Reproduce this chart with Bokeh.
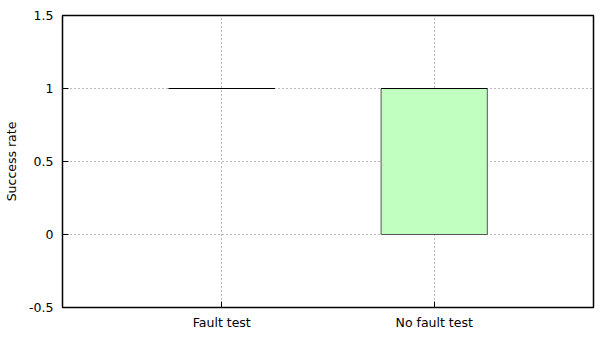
from bokeh.plotting import figure
from bokeh.models import FixedTicker, Range1d, ColumnDataSource
from bokeh.embed import file_html
from bokeh.resources import INLINE

categories = ["Fault test", "No fault test"]
lower = [1.0, 0.0]
q1 = [1.0, 0.0]
median = [1.0, 1.0]
q3 = [1.0, 1.0]
upper = [1.0, 1.0]
y_ticks = [-0.5, 0, 0.5, 1, 1.5]
y_tick_labels = ["-0.5", "0", "0.5", "1", "1.5"]

xs = [i + 1 for i in range(len(categories))]
half = 0.25
src = ColumnDataSource(dict(
    x=xs, left=[x - half for x in xs], right=[x + half for x in xs],
    q1=q1, q3=q3, med=median, lo=lower, hi=upper,
))

p = figure(width=600, height=341, output_backend="svg", toolbar_location=None,
           x_range=Range1d(0.25, 2.75), y_range=Range1d(-0.5, 1.5),
           min_border_left=62, min_border_right=7, min_border_top=15, min_border_bottom=34)
p.background_fill_color = "white"
p.border_fill_color = "white"
p.outline_line_color = "black"
p.outline_line_width = 1.5

for ax_grid in (p.xgrid, p.ygrid):
    ax_grid.grid_line_color = "#777777"
    ax_grid.grid_line_dash = "1 3"
    ax_grid.grid_line_width = 1
p.xgrid.ticker = FixedTicker(ticks=xs)
p.ygrid.ticker = FixedTicker(ticks=y_ticks)

p.xaxis.ticker = FixedTicker(ticks=xs)
p.xaxis.major_label_overrides = {x: c for x, c in zip(xs, categories)}
p.yaxis.ticker = FixedTicker(ticks=y_ticks)
p.yaxis.major_label_overrides = {t: l for t, l in zip(y_ticks, y_tick_labels)}
for ax in (p.xaxis[0], p.yaxis[0]):
    ax.axis_line_color = None
    ax.major_tick_in = 6
    ax.major_tick_out = 0
    ax.major_tick_line_color = "black"
    ax.minor_tick_line_color = None
    ax.major_label_text_font = "DejaVu Sans"
    ax.major_label_text_font_size = "12.5px"
    ax.major_label_text_color = "black"
    ax.axis_label_text_font = "DejaVu Sans"
    ax.axis_label_text_font_size = "12.5px"
    ax.axis_label_text_font_style = "normal"
    ax.axis_label_text_color = "black"
p.xaxis.major_label_standoff = 7
p.yaxis.major_label_standoff = 9
p.yaxis.axis_label = "Success rate"
p.yaxis.axis_label_standoff = 7

p.segment(x0="x", x1="x", y0="lo", y1="q1", source=src, line_color="black", line_width=1)
p.segment(x0="x", x1="x", y0="q3", y1="hi", source=src, line_color="black", line_width=1)
p.quad(left="left", right="right", bottom="q1", top="q3", source=src,
       fill_color="#c0ffc0", line_color="#555555", line_width=1)
p.segment(x0="left", x1="right", y0="med", y1="med", source=src, line_color="black", line_width=1)

open("out.html", "w").write(file_html(p, INLINE))
